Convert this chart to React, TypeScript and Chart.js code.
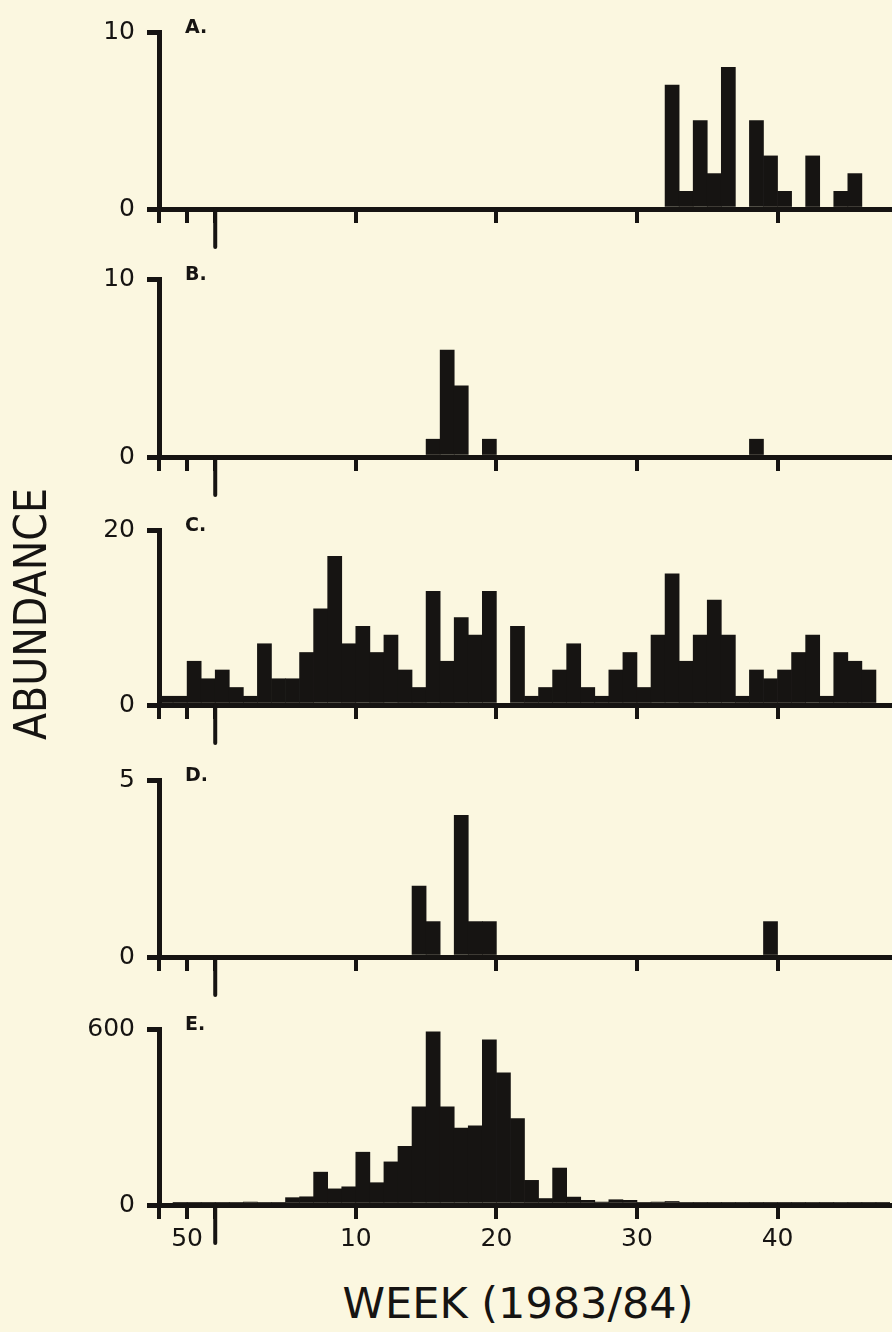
import { useEffect, useRef } from 'react';
import { Chart, registerables } from 'chart.js';

Chart.register(...registerables);

// Week bins: start of each weekly bin, counted from the 1983/84 year break (0).
const BIN_START = [-4, -3, -2, -1, 0, 1, 2, 3, 4, 5, 6, 7, 8, 9, 10, 11, 12, 13, 14, 15, 16, 17, 18, 19, 20, 21, 22, 23, 24, 25, 26, 27, 28, 29, 30, 31, 32, 33, 34, 35, 36, 37, 38, 39, 40, 41, 42, 43, 44, 45, 46, 47];

const X_TICKS = [-4, -2, 0, 10, 20, 30, 40];
const X_TICK_LABELS = ['', '50', '', '10', '20', '30', '40'];
const YEAR_BREAK = 0;

const A_VALUES = [0, 0, 0, 0, 0, 0, 0, 0, 0, 0, 0, 0, 0, 0, 0, 0, 0, 0, 0, 0, 0, 0, 0, 0, 0, 0, 0, 0, 0, 0, 0, 0, 0, 0, 0, 0, 7, 1, 5, 2, 8, 0, 5, 3, 1, 0, 3, 0, 1, 2, 0, 0];
const B_VALUES = [0, 0, 0, 0, 0, 0, 0, 0, 0, 0, 0, 0, 0, 0, 0, 0, 0, 0, 0, 1, 6, 4, 0, 1, 0, 0, 0, 0, 0, 0, 0, 0, 0, 0, 0, 0, 0, 0, 0, 0, 0, 0, 1, 0, 0, 0, 0, 0, 0, 0, 0, 0];
const C_VALUES = [1, 1, 5, 3, 4, 2, 1, 7, 3, 3, 6, 11, 17, 7, 9, 6, 8, 4, 2, 13, 5, 10, 8, 13, 0, 9, 1, 2, 4, 7, 2, 1, 4, 6, 2, 8, 15, 5, 8, 12, 8, 1, 4, 3, 4, 6, 8, 1, 6, 5, 4, 0];
const D_VALUES = [0, 0, 0, 0, 0, 0, 0, 0, 0, 0, 0, 0, 0, 0, 0, 0, 0, 0, 2, 1, 0, 4, 1, 1, 0, 0, 0, 0, 0, 0, 0, 0, 0, 0, 0, 0, 0, 0, 0, 0, 0, 0, 0, 1, 0, 0, 0, 0, 0, 0, 0, 0];
const E_VALUES = [0, 3, 5, 5, 6, 8, 10, 8, 6, 25, 28, 112, 55, 62, 180, 76, 147, 200, 335, 590, 335, 262, 270, 563, 451, 295, 84, 22, 126, 27, 16, 10, 18, 16, 6, 10, 12, 8, 6, 6, 5, 5, 6, 4, 4, 4, 8, 5, 9, 6, 6, 5];

const PANEL_LETTERS = ['A.', 'B.', 'C.', 'D.', 'E.'];
const Y_MAX = [10, 10, 20, 5, 600];
const SERIES = [A_VALUES, B_VALUES, C_VALUES, D_VALUES, E_VALUES];

// Layout (pixels)
const PANEL_TOP = [25, 272, 523, 773, 1022];
const PANEL_BASE = [209, 457, 705, 957, 1205];
const PLOT_LEFT = 159;
const PAD_TOP = 20;
const INK = '#161412';
const PAPER = '#fbf7e0';
const FONT = "'DejaVu Sans', sans-serif";

const longTickPlugin = {
  id: 'longTick',
  afterDraw(chart: any) {
    const xs = chart.scales.x;
    const px = xs.getPixelForValue(YEAR_BREAK);
    const ctx = chart.ctx;
    ctx.save();
    ctx.strokeStyle = INK;
    ctx.lineWidth = 4;
    ctx.lineCap = 'round';
    ctx.beginPath();
    ctx.moveTo(px, chart.chartArea.bottom);
    ctx.lineTo(px, chart.chartArea.bottom + 38);
    ctx.stroke();
    ctx.restore();
  },
};

function Panel({ idx }: { idx: number }) {
  const ref = useRef<HTMLCanvasElement | null>(null);
  const showLabels = idx === 4;
  const xH = showLabels ? 62 : 46;
  const top = PANEL_TOP[idx] - PAD_TOP;
  const height = PANEL_BASE[idx] - PANEL_TOP[idx] + PAD_TOP + xH;

  useEffect(() => {
    if (!ref.current) return;
    const values = SERIES[idx];
    const yMax = Y_MAX[idx];
    const chart = new Chart(ref.current, {
      type: 'bar',
      data: {
        datasets: [
          {
            data: BIN_START.map((w, i) => ({ x: w + 0.5, y: values[i] })),
            backgroundColor: INK,
            borderWidth: 0,
            barPercentage: 1,
            categoryPercentage: 1,
          } as any,
        ],
      },
      options: {
        animation: false,
        responsive: false,
        events: [],
        layout: { padding: { top: PAD_TOP, right: 2, left: 0, bottom: 0 } },
        plugins: { legend: { display: false }, tooltip: { enabled: false }, title: { display: false } },
        scales: {
          x: {
            type: 'linear',
            min: -4,
            max: 48,
            offset: false,
            grid: { display: true, drawOnChartArea: false, drawTicks: true, tickLength: 14, lineWidth: 4, color: INK, offset: false },
            border: { display: true, width: 5, color: INK },
            ticks: {
              display: showLabels,
              autoSkip: false,
              maxRotation: 0,
              padding: 5,
              color: INK,
              font: { family: FONT, size: 25 },
              callback: (v: any) => {
                const k = X_TICKS.indexOf(Number(v));
                return k >= 0 ? X_TICK_LABELS[k] : '';
              },
            },
            afterBuildTicks: (s: any) => {
              s.ticks = X_TICKS.map((v) => ({ value: v }));
            },
            afterFit: (s: any) => {
              s.height = xH;
            },
          } as any,
          y: {
            type: 'linear',
            min: 0,
            max: yMax,
            grid: { display: true, drawOnChartArea: false, drawTicks: true, tickLength: 12, lineWidth: 5, color: INK },
            border: { display: true, width: 5, color: INK },
            ticks: {
              padding: 12,
              color: INK,
              font: { family: FONT, size: 25 },
              callback: (v: any) => String(v),
            },
            afterBuildTicks: (s: any) => {
              s.ticks = [{ value: 0 }, { value: yMax }];
            },
            afterFit: (s: any) => {
              s.width = PLOT_LEFT;
            },
          } as any,
        },
      },
      plugins: [longTickPlugin],
    });
    return () => chart.destroy();
  }, [idx]);

  return (
    <>
      <canvas
        ref={ref}
        width={892}
        height={height}
        style={{ position: 'absolute', left: 0, top, width: 892, height }}
      />
      <div
        style={{
          position: 'absolute',
          left: 185,
          top: PANEL_TOP[idx] - 8,
          fontFamily: FONT,
          fontWeight: 'bold',
          fontSize: 19,
          lineHeight: '19px',
          color: INK,
          whiteSpace: 'nowrap',
        }}
      >
        {PANEL_LETTERS[idx]}
      </div>
    </>
  );
}

export default function App() {
  return (
    <div
      style={{
        position: 'absolute',
        left: 0,
        top: 0,
        width: 892,
        height: 1332,
        background: PAPER,
        overflow: 'hidden',
      }}
    >
      {[0, 1, 2, 3, 4].map((i) => (
        <Panel key={i} idx={i} />
      ))}
      <div
        style={{
          position: 'absolute',
          left: 31 - 150,
          top: 614 - 23,
          width: 300,
          height: 46,
          lineHeight: '46px',
          textAlign: 'center',
          fontFamily: FONT,
          fontSize: 45,
          color: INK,
          whiteSpace: 'nowrap',
          transform: 'rotate(-90deg) scaleX(0.88)',
        }}
      >
        ABUNDANCE
      </div>
      <div
        style={{
          position: 'absolute',
          left: 518 - 300,
          top: 1282,
          width: 600,
          textAlign: 'center',
          fontFamily: FONT,
          fontSize: 43,
          lineHeight: '43px',
          color: INK,
          whiteSpace: 'nowrap',
        }}
      >
        WEEK (1983/84)
      </div>
    </div>
  );
}
